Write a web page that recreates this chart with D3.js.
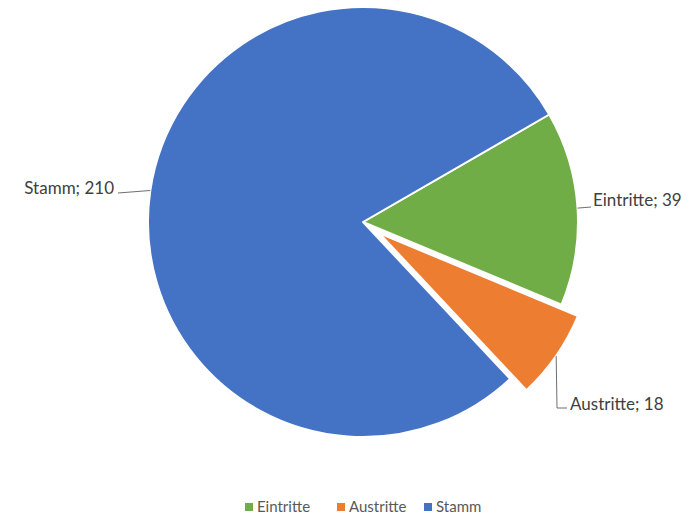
<!DOCTYPE html>
<html>
<head>
<meta charset="utf-8">
<script src="https://cdn.jsdelivr.net/npm/d3@7"></script>
<style>
  body { margin: 0; background: #fff; }
  text { font-family: Lato, "Open Sans", sans-serif; fill: #404040; }
</style>
</head>
<body>
<div id="chart"></div>
<script>
// data
var categories = ["Eintritte", "Austritte", "Stamm"];
var values = [39, 18, 210];
var colors = ["#70AD47", "#ED7D31", "#4472C4"];
var exploded = [0, 20, 0];

var width = 695,
    height = 517;
var cx = 363,
    cy = 222,
    radius = 215;

// label placement (text anchor point), by category
var labelPos = {
    "Eintritte": { x: 593, y: 206, anchor: "start", elbow: [[591, 207]] },
    "Austritte": { x: 570, y: 410, anchor: "start", elbow: [[557, 408], [567, 408]] },
    "Stamm": { x: 114, y: 194, anchor: "end", elbow: [[118, 193]] }
};

var svg = d3.select("#chart")
    .append("svg")
    .attr("width", width)
    .attr("height", height);

var pie = d3.pie()
    .sort(null)
    .startAngle(60 * Math.PI / 180)
    .endAngle(420 * Math.PI / 180)
    .value(function (d) { return d.value; });

var data = categories.map(function (c, i) {
    return { name: c, value: values[i], color: colors[i], explode: exploded[i] };
});

var arcs = pie(data);

var arc = d3.arc()
    .innerRadius(0)
    .outerRadius(radius);

var g = svg.append("g")
    .attr("transform", "translate(" + cx + "," + cy + ")");

function offset(d) {
    var a = (d.startAngle + d.endAngle) / 2;
    return [Math.sin(a) * d.data.explode, -Math.cos(a) * d.data.explode];
}

// slices
g.selectAll("path.slice")
    .data(arcs)
    .enter()
    .append("path")
    .attr("class", "slice")
    .attr("d", arc)
    .attr("transform", function (d) {
        var o = offset(d);
        return "translate(" + o[0] + "," + o[1] + ")";
    })
    .style("fill", function (d) { return d.data.color; })
    .style("stroke", "#fff")
    .style("stroke-width", 2)
    .style("stroke-linejoin", "round");

// leader lines + labels
arcs.forEach(function (d) {
    var a = (d.startAngle + d.endAngle) / 2;
    var o = offset(d);
    var sx = cx + o[0] + Math.sin(a) * radius,
        sy = cy + o[1] - Math.cos(a) * radius;
    var lp = labelPos[d.data.name];
    var pts = [[sx, sy]].concat(lp.elbow);
    svg.append("path")
        .attr("d", d3.line()(pts))
        .style("fill", "none")
        .style("stroke", "#6f6f6f")
        .style("stroke-width", 1);
    svg.append("text")
        .attr("x", lp.x)
        .attr("y", lp.y)
        .attr("text-anchor", lp.anchor)
        .style("font-size", "17px")
        .text(d.data.name + "; " + d.data.value);
});

// legend
var legendX = [245, 337, 424];
var legend = svg.selectAll(".legend")
    .data(data)
    .enter()
    .append("g")
    .attr("class", "legend")
    .attr("transform", function (d, i) {
        return "translate(" + legendX[i] + ",503)";
    });

legend.append("rect")
    .attr("width", 8)
    .attr("height", 8)
    .style("fill", function (d) { return d.color; });

legend.append("text")
    .attr("x", 12)
    .attr("y", 9)
    .style("font-size", "15px")
    .style("fill", "#595959")
    .text(function (d) { return d.name; });
</script>
</body>
</html>
